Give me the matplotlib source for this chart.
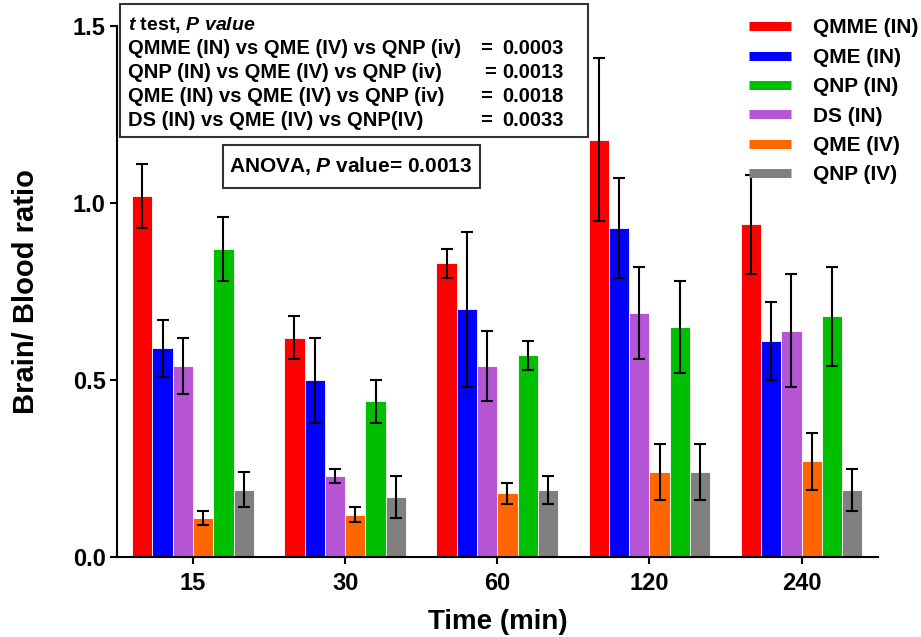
import matplotlib.pyplot as plt
import numpy as np
from matplotlib.lines import Line2D
from matplotlib.patches import Rectangle

plt.rcParams['font.family'] = ['Liberation Sans', 'DejaVu Sans']
plt.rcParams['font.weight'] = 'bold'
plt.rcParams['mathtext.fontset'] = 'custom'
plt.rcParams['mathtext.it'] = 'Liberation Sans:italic:bold'
plt.rcParams['mathtext.rm'] = 'Liberation Sans:bold'
plt.rcParams['mathtext.bf'] = 'Liberation Sans:bold'

times = ['15', '30', '60', '120', '240']
# bar order inside each group, left to right
groups = ['QMME (IN)', 'QME (IN)', 'DS (IN)', 'QME (IV)', 'QNP (IN)', 'QNP (IV)']
colors = ['#ff0000', '#0000ff', '#b655d6', '#ff6600', '#00bf00', '#808080']

means = {
    'QMME (IN)': [1.02, 0.62, 0.83, 1.18, 0.94],
    'QME (IN)':  [0.59, 0.50, 0.70, 0.93, 0.61],
    'DS (IN)':   [0.54, 0.23, 0.54, 0.69, 0.64],
    'QME (IV)':  [0.11, 0.12, 0.18, 0.24, 0.27],
    'QNP (IN)':  [0.87, 0.44, 0.57, 0.65, 0.68],
    'QNP (IV)':  [0.19, 0.17, 0.19, 0.24, 0.19],
}
errors = {
    'QMME (IN)': [0.09, 0.06, 0.04, 0.23, 0.14],
    'QME (IN)':  [0.08, 0.12, 0.22, 0.14, 0.11],
    'DS (IN)':   [0.08, 0.02, 0.10, 0.13, 0.16],
    'QME (IV)':  [0.02, 0.02, 0.03, 0.08, 0.08],
    'QNP (IN)':  [0.09, 0.06, 0.04, 0.13, 0.14],
    'QNP (IV)':  [0.05, 0.06, 0.04, 0.08, 0.06],
}
legend_order = ['QMME (IN)', 'QME (IN)', 'QNP (IN)', 'DS (IN)', 'QME (IV)', 'QNP (IV)']

fig = plt.figure(figsize=(9.21, 6.37), dpi=100)
ax = fig.add_axes([0.127, 0.1256, 0.826, 0.833])

x = np.arange(len(times))
w = 0.8 / len(groups)
for i, g in enumerate(groups):
    pos = x - 0.4 + w * (i + 0.5)
    ax.bar(pos, means[g], w, color=colors[i], edgecolor='white', linewidth=0.6)
    ax.errorbar(pos, means[g], yerr=errors[g], fmt='none', ecolor='black',
                elinewidth=1.5, capsize=4, capthick=1.5)

ax.set_xlim(-0.5, 4.5)
ax.set_ylim(0, 1.5)
ax.set_xticks(x)
ax.set_xticklabels(times)
ax.set_yticks([0, 0.5, 1.0, 1.5])
ax.set_yticklabels(['0.0', '0.5', '1.0', '1.5'])
ax.tick_params(labelsize=17, width=1.5, length=5, pad=3)
ax.tick_params(axis='x', pad=6)
for s in ['top', 'right']:
    ax.spines[s].set_visible(False)
for s in ['left', 'bottom']:
    ax.spines[s].set_linewidth(1.5)
ax.set_xlabel('Time (min)', fontsize=20, fontweight='bold', va='center')
ax.set_ylabel('Brain/ Blood ratio', fontsize=21, fontweight='bold', va='center')
ax.xaxis.set_label_coords(0.5, -0.122)
ax.yaxis.set_label_coords(-0.12, 0.5)

# t test box
fig.patches.append(Rectangle((120 / 921, 1 - 137 / 637), 468 / 921, 133 / 637,
                             transform=fig.transFigure, fill=False, edgecolor='#333333', lw=1.5))
fig.text(128 / 921, 1 - 25 / 637, r'$\mathit{t}$ test, $\mathit{P\ value}$', fontsize=14, va='center')
rows = [('QMME (IN) vs QME (IV) vs QNP (iv)', '0.0003', 480),
        ('QNP (IN) vs QME (IV) vs QNP (iv)', '0.0013', 484),
        ('QME (IN) vs QME (IV) vs QNP (iv)', '0.0018', 480),
        ('DS (IN) vs QME (IV) vs QNP(IV)', '0.0033', 480)]
for k, (lab, val, ex) in enumerate(rows):
    yy = 1 - (48 + 24.3 * k) / 637
    fig.text(128 / 921, yy, lab, fontsize=14.5, va='center')
    fig.text(ex / 921, yy, '=', fontsize=14.5, va='center')
    fig.text(564 / 921, yy, val, fontsize=14.5, va='center', ha='right')

# ANOVA box
fig.patches.append(Rectangle((223 / 921, 1 - 188 / 637), 257 / 921, 43 / 637,
                             transform=fig.transFigure, fill=False, edgecolor='#333333', lw=1.5))
fig.text(351 / 921, 1 - 166 / 637, r'ANOVA, $\mathit{P}$ value= 0.0013',
         fontsize=15, va='center', ha='center')

handles = [Line2D([], [], color=colors[groups.index(g)], lw=6.5, solid_capstyle='butt')
           for g in legend_order]
fig.legend(handles, legend_order, loc='upper right', bbox_to_anchor=(1.0, 0.976),
           frameon=False, fontsize=15, handlelength=2.0, labelspacing=0.5,
           handletextpad=1.05, borderpad=0.15, borderaxespad=0)

plt.savefig('out.png', dpi=100)
